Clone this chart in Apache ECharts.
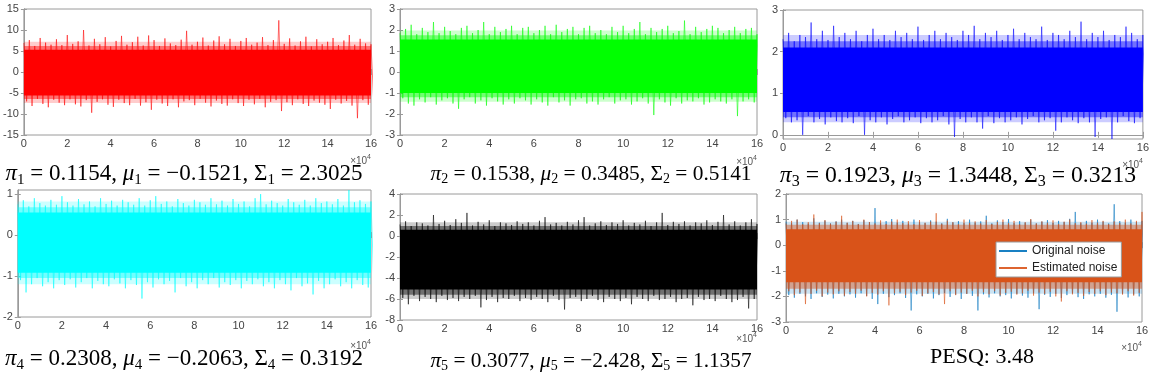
<!DOCTYPE html>
<html>
<head>
<meta charset="utf-8">
<script src="https://cdn.jsdelivr.net/npm/echarts@6/dist/echarts.min.js"></script>
<style>
  html, body { margin: 0; padding: 0; background: #fff; }
  #main { width: 1152px; height: 379px; }
</style>
</head>
<body>
<div id="main"></div>
<script>
const chart = echarts.init(document.getElementById('main'));

// samples are in units of 1e4, one peak/trough pair every 0.25
const STEP = 0.25;
const xTicks = [0, 2, 4, 6, 8, 10, 12, 14, 16];

// panel 1 (red)
const hi1 = [6.9,7.6,6.2,8.1,7.0,6.5,7.8,6.4,8.8,6.7, 7.3,10.0,6.3,7.9,6.6,8.3,6.1,7.4,8.6,6.5, 7.1,8.4,6.3,8.7,7.6,6.2,8.0,6.8,6.4,7.7,
  9.8,6.5,7.2,8.2,6.3,7.5,8.5,6.6,7.9,6.2, 7.4,8.1,6.5,7.0,8.3,6.4,7.6,12.3,6.7,8.0, 6.3,7.3,8.4,6.1,7.8,6.6,7.2,8.1,6.4,7.5, 8.8,6.5,7.9,6.8,6.6];
const lo1 = [-7.0,-8.1,-6.4,-7.6,-8.4,-6.6,-7.3,-7.9,-6.5,-7.7, -8.2,-6.7,-9.7,-7.1,-6.5,-7.8,-8.3,-6.6,-7.4,-7.9, -6.4,-8.0,-7.2,-9.0,-6.6,-7.5,-8.1,-6.5,-8.4,-7.0,
  -6.7,-7.9,-6.4,-7.3,-8.2,-6.8,-7.6,-8.0,-6.5,-7.4, -8.1,-6.6,-7.7,-6.4,-8.4,-7.1,-6.7,-9.3,-7.2,-7.9, -6.5,-7.6,-8.1,-6.8,-7.3,-7.8,-8.8,-6.6,-7.5,-6.9, -8.0,-11.0,-6.7,-7.8,-7.1];
// panel 2 (green)
const hi2 = [1.85,2.05,2.25,1.8,2.1,1.9,2.38,1.85,2.15,1.95, 1.8,2.1,2.2,1.85,2.0,2.38,1.8,2.15,1.9,2.05, 2.2,1.8,2.1,2.15,1.85,2.0,2.2,1.8,2.25,1.9,
  2.05,2.15,1.8,2.1,2.2,1.85,2.0,1.8,2.15,1.9, 2.2,1.85,2.05,2.38,1.8,2.1,1.9,2.05,2.2,1.85, 1.95,2.45,1.8,2.15,1.9,2.05,2.2,2.1,1.85,2.0, 2.15,1.85,2.05,2.1,1.8];
const lo2 = [-1.25,-1.5,-1.6,-1.3,-1.45,-1.2,-1.55,-1.35,-1.25,-1.5, -1.75,-1.3,-1.2,-1.5,-1.35,-1.6,-1.25,-1.4,-1.55,-1.3, -1.5,-1.25,-1.35,-1.55,-1.3,-1.45,-1.6,-1.2,-1.45,-1.35,
  -1.6,-1.3,-1.25,-1.5,-1.4,-1.55,-1.3,-1.2,-1.5,-1.35, -1.3,-1.55,-1.4,-1.25,-1.5,-2.05,-1.3,-1.45,-1.6,-1.25, -1.5,-1.35,-1.4,-1.25,-1.55,-1.45,-1.3,-1.4,-1.5,-1.3, -2.1,-1.4,-1.3,-1.45,-1.3];
// panel 3 (blue)
const hi3 = [2.3,2.45,2.25,2.4,2.35,2.7,2.3,2.5,2.28,2.62, 2.35,2.45,2.3,2.5,2.25,2.4,2.55,2.3,2.4,2.28, 2.5,2.35,2.45,2.3,2.6,2.28,2.4,2.5,2.3,2.45,
  2.35,2.28,2.5,2.4,2.62,2.3,2.45,2.35,2.5,2.28, 2.4,2.55,2.3,2.45,2.35,2.3,2.6,2.28,2.45,2.4, 2.3,2.5,2.35,2.72,2.3,2.45,2.35,2.5,2.28,2.4, 2.35,2.6,2.45,2.3,2.4];
const lo3 = [0.4,0.3,0.35,0.0,0.45,0.3,0.38,0.25,0.42,0.33, 0.3,0.4,0.28,0.45,0.0,0.35,0.3,0.42,0.25,0.38, 0.45,0.3,0.35,0.42,0.28,0.4,0.3,0.35,0.45,0.25,
  -0.05,0.38,0.3,0.42,0.3,0.15,0.45,0.28,0.4,0.3, 0.35,0.42,0.25,0.38,0.45,0.3,0.35,0.4,0.1,0.3, 0.42,0.35,0.28,0.4,0.3,-0.05,0.38,0.42,-0.1,0.3, 0.45,0.33,0.28,0.4,0.35];
// panel 4 (cyan)
const hi4 = [0.75,0.85,0.7,0.9,0.78,0.72,0.86,0.74,0.95,0.8, 0.72,0.88,0.75,0.82,0.7,0.9,0.76,0.84,0.72,0.86, 0.8,0.74,0.9,0.72,0.85,0.95,0.76,0.82,0.7,0.88,
  0.78,0.72,0.86,0.8,0.74,0.9,0.75,0.84,0.72,0.88, 0.76,0.82,0.7,0.9,1.0,0.75,0.84,0.78,0.72,0.88, 0.8,0.74,0.86,0.72,0.9,0.78,0.82,0.75,0.88,0.72, 1.1,0.8,0.85,0.76,0.82];
const lo4 = [-1.1,-1.4,-1.2,-1.05,-1.25,-1.15,-1.3,-1.1,-1.22,-1.08, -1.28,-1.15,-1.05,-1.3,-1.12,-1.2,-1.25,-1.08,-1.18,-1.3, -1.1,-1.22,-1.55,-1.15,-1.28,-1.08,-1.2,-1.12,-1.4,-1.05,
  -1.25,-1.15,-1.3,-1.1,-1.2,-1.05,-1.28,-1.15,-1.22,-1.1, -1.3,-1.12,-1.2,-1.08,-1.25,-1.15,-1.3,-1.1,-1.2,-1.35, -1.05,-1.25,-1.18,-1.45,-1.12,-1.3,-1.2,-1.08,-1.25,-1.15, -1.3,-1.1,-1.22,-1.28,-1.12];
// panel 5 (black)
const hi5 = [1.1,1.4,0.95,1.3,1.2,1.0,2.0,1.15,1.45,1.05, 1.6,1.25,2.2,1.0,1.35,1.1,1.5,0.95,1.3,1.2, 1.05,1.4,1.15,1.3,1.0,1.45,1.8,1.1,1.25,1.0,
  1.35,1.1,1.5,1.8,1.0,1.2,1.4,1.05,1.3,1.15, 1.5,1.0,1.25,1.1,1.45,0.95,1.3,2.2,1.05,1.35, 1.15,1.4,1.0,1.3,1.2,1.5,1.05,1.35,2.0,1.1, 1.4,1.0,1.3,1.6,1.15];
const lo5 = [-5.9,-6.5,-5.7,-6.2,-5.8,-6.0,-6.3,-5.7,-6.1,-5.9, -6.2,-5.8,-6.0,-5.7,-6.8,-6.1,-5.8,-6.3,-5.9,-6.0, -5.7,-6.2,-5.9,-6.1,-5.8,-6.0,-6.3,-5.7,-6.1,-7.0,
  -5.9,-5.8,-6.2,-6.0,-5.7,-6.1,-6.3,-5.8,-6.0,-6.2, -5.9,-6.5,-5.8,-6.0,-6.2,-5.7,-6.1,-6.0,-5.8,-6.3, -6.0,-5.9,-6.6,-5.8,-6.1,-6.0,-6.2,-5.7,-6.0,-6.3, -6.1,-5.8,-6.9,-6.0,-6.2];
// panel 6: original (blue) and estimated (orange) noise
const hiOrig = [0.92,0.86,1.0,0.9,0.84,1.05,0.88,0.96,0.85,0.93, 1.0,0.87,0.95,0.83,0.98,0.9,1.45,0.86,0.94,1.02, 0.88,0.95,0.84,1.0,0.9,0.86,0.97,0.92,0.85,1.03,
  0.89,0.94,0.86,1.0,0.88,0.93,1.15,0.85,0.97,0.9, 1.02,0.86,0.94,0.88,1.0,0.85,0.92,0.98,0.87,0.95, 0.9,1.03,1.3,0.86,0.95,0.88,1.0,0.92,0.85,1.6, 0.94,0.88,1.0,0.9,0.95];
const loOrig = [-1.95,-2.05,-1.9,-2.0,-2.1,-1.88,-2.02,-1.93,-2.08,-1.9, -2.0,-1.92,-2.05,-1.88,-1.98,-2.1,-2.3,-1.9,-2.03,-1.95, -1.88,-2.06,-2.55,-1.92,-2.0,-1.9,-2.08,-1.95,-1.87,-2.02,
  -1.93,-2.1,-1.9,-1.98,-2.55,-1.92,-2.04,-1.88,-2.0,-1.95, -2.08,-1.9,-1.97,-2.05,-1.88,-2.5,-1.94,-2.02,-1.9,-2.06, -1.95,-1.88,-2.03,-2.1,-1.92,-2.0,-1.9,-2.05,-1.94,-2.6, -1.9,-2.04,-1.93,-2.0,-1.88];
const hiEst = [0.85,0.95,1.0,0.82,0.9,1.2,0.86,0.98,0.84,0.92, 1.15,0.88,0.95,0.82,1.0,0.9,0.85,0.97,0.83,0.92, 1.0,0.86,0.94,0.82,0.98,0.88,0.92,1.25,0.84,0.96,
  0.9,0.82,1.0,0.87,0.93,0.85,0.98,0.83,0.91,1.0, 0.86,0.95,0.82,0.9,1.02,0.85,0.93,0.88,0.97,0.83, 0.92,1.0,0.86,0.9,0.84,0.98,0.88,0.95,0.82,0.93, 0.87,1.0,0.85,0.95,1.3];
const loEst = [-1.8,-1.95,-1.85,-2.3,-1.9,-1.78,-2.0,-1.85,-1.92,-1.8, -1.97,-1.83,-1.9,-1.78,-2.0,-1.86,-1.93,-1.8,-2.35,-1.88, -1.82,-1.95,-1.85,-1.78,-1.98,-1.88,-1.83,-1.92,-2.3,-1.8,
  -1.95,-1.85,-1.9,-1.78,-2.0,-1.84,-1.92,-1.8,-1.96,-1.86, -1.82,-1.93,-1.88,-1.78,-1.97,-1.85,-1.9,-1.82,-2.0,-2.2, -1.8,-1.92,-1.86,-1.98,-1.83,-1.9,-1.8,-1.95,-1.85,-1.88, -1.93,-1.8,-1.97,-1.86,-1.82];

// panel frames, axis ranges, solid core plus inner and outer fringe of each trace
const panels = [
  { left: 19,  top: 9,   width: 352, height: 126, min: -15, max: 15,  yTicks: [-15, -10, -5, 0, 5, 10, 15], core: [-5.6, 5.3],  fringe: [-6.4, 6.2],  outer: [-7.4, 7.2],  color: '#ff0000', hi: hi1, lo: lo1 },
  { left: 400, top: 9,   width: 357, height: 126, min: -3,  max: 3,   yTicks: [-3, -2, -1, 0, 1, 2, 3],      core: [-1.0, 1.55], fringe: [-1.2, 1.75], outer: [-1.42, 1.98], color: '#00ff00', hi: hi2, lo: lo2 },
  { left: 783, top: 10,  width: 360, height: 129, min: -0.1, max: 3,  yTicks: [0, 1, 2, 3],                  core: [0.55, 2.1],  fringe: [0.42, 2.25], outer: [0.3, 2.4],   color: '#0000ff', hi: hi3, lo: lo3 },
  { left: 14,  top: 190, width: 357, height: 127, min: -2,  max: 1.1, yTicks: [-2, -1, 0, 1],                core: [-0.92, 0.55], fringe: [-1.05, 0.68], outer: [-1.2, 0.82], color: '#00ffff', hi: hi4, lo: lo4 },
  { left: 400, top: 194, width: 357, height: 126, min: -8,  max: 4,   yTicks: [-8, -6, -4, -2, 0, 2, 4],     core: [-5.1, 0.6],  fringe: [-5.6, 0.95], outer: [-6.0, 1.3],  color: '#000000', hi: hi5, lo: lo5 },
  { left: 786, top: 194, width: 356, height: 128, min: -3,  max: 2,   yTicks: [-3, -2, -1, 0, 1, 2],         core: [-1.45, 0.62], fringe: [-1.7, 0.8], outer: [-1.9, 0.92], color: '#d95319', hi: hiEst, lo: loEst }
];

const axisColor = '#9a9a9a';
const labelStyle = { color: '#444', fontSize: 11, fontFamily: 'Liberation Sans, Arial' };

function zigzag(hi, lo) {
  const pts = [];
  for (let i = 0; i < hi.length; i++) {
    pts.push([i * STEP, hi[i]]);
    pts.push([i * STEP + STEP / 2, lo[i]]);
  }
  return pts;
}

const grid = [], xAxis = [], yAxis = [], series = [];
panels.forEach((p, k) => {
  grid.push({ left: p.left, top: p.top, width: p.width, height: p.height, show: true, borderColor: axisColor, borderWidth: 1, backgroundColor: '#fff' });
  const xBase = { type: 'value', gridIndex: k, min: 0, max: 16,
    axisLine: { show: true, lineStyle: { color: axisColor } },
    axisTick: { inside: true, length: 3, lineStyle: { color: axisColor }, customValues: xTicks },
    splitLine: { show: false } };
  xAxis.push(Object.assign({}, xBase, { position: 'bottom', axisLabel: Object.assign({ margin: 3, customValues: xTicks }, labelStyle) }));
  xAxis.push(Object.assign({}, xBase, { position: 'top', axisLabel: { show: false } }));
  const yBase = { type: 'value', gridIndex: k, min: p.min, max: p.max,
    axisLine: { show: true, lineStyle: { color: axisColor } },
    axisTick: { inside: true, length: 3, lineStyle: { color: axisColor }, customValues: p.yTicks },
    splitLine: { show: false } };
  yAxis.push(Object.assign({}, yBase, { position: 'left', axisLabel: Object.assign({ margin: 5, customValues: p.yTicks }, labelStyle) }));
  yAxis.push(Object.assign({}, yBase, { position: 'right', axisLabel: { show: false } }));
});

function noiseLine(k, name, color, hi, lo, z) {
  return {
    name: name, type: 'line', xAxisIndex: k * 2, yAxisIndex: k * 2,
    data: zigzag(hi, lo), symbol: 'none', silent: true, z: z,
    lineStyle: { color: color, width: 1, opacity: 0.55 }, itemStyle: { color: color }
  };
}

// solid band between two levels, drawn through the axis scales
function band(k, p, range, opacity, z) {
  return {
    type: 'custom', xAxisIndex: k * 2, yAxisIndex: k * 2, silent: true, z: z,
    data: [range],
    renderItem: function (params, api) {
      const a = api.coord([0, api.value(1)]);
      const b = api.coord([16, api.value(0)]);
      return { type: 'rect', shape: { x: a[0], y: a[1], width: b[0] - a[0], height: b[1] - a[1] }, style: { fill: p.color, opacity: opacity } };
    }
  };
}

panels.forEach((p, k) => {
  if (k === 5) {
    series.push(noiseLine(k, 'Original noise', '#0072bd', hiOrig, loOrig, 2));
    series.push(band(k, { color: '#0072bd' }, p.outer, 0.2, 3));
    series.push(noiseLine(k, 'Estimated noise', '#d95319', p.hi, p.lo, 3));
  } else {
    series.push(noiseLine(k, 'n' + (k + 1), p.color, p.hi, p.lo, 2));
    series.push(band(k, p, p.outer, 0.2, 3));
  }
  series.push(band(k, p, p.fringe, 0.45, 4));
  series.push(band(k, p, p.core, 1, 5));
});

// captions under each panel
const capFont = 'Liberation Serif, DejaVu Serif, serif';
function capRich(size) {
  return {
    n: { fontSize: size, fontFamily: capFont, color: '#000' },
    i: { fontSize: size, fontFamily: capFont, fontStyle: 'italic', color: '#000' },
    s: { fontSize: Math.round(size * 0.67), fontFamily: capFont, color: '#000', padding: [Math.round(size * 0.5), 0, 0, 0] },
    p: { fontSize: size, fontFamily: capFont, color: '#000' }
  };
}
function caption(k, pi, mu, sig) {
  return '{i|π}{s|' + k + '}{n| = ' + pi + ', }{i|μ}{s|' + k + '}{n| = ' + mu + ', Σ}{s|' + k + '}{n| = ' + sig + '}';
}
const captions = [
  { x: 184, y: 174, size: 23,   text: caption(1, '0.1154', '−0.1521', '2.3025') },
  { x: 591, y: 174, size: 21.4, text: caption(2, '0.1538', '0.3485', '0.5141') },
  { x: 958, y: 176, size: 23.7, text: caption(3, '0.1923', '1.3448', '0.3213') },
  { x: 184, y: 359, size: 23,   text: caption(4, '0.2308', '−0.2063', '0.3192') },
  { x: 591, y: 361, size: 21.3, text: caption(5, '0.3077', '−2.428', '1.1357') },
  { x: 982, y: 357, size: 22,   text: '{p|PESQ: 3.48}' }
];
// exponent marks at the right end of each x axis
const expMarks = [
  { x: 371, y: 161 }, { x: 757, y: 162 }, { x: 1143, y: 165 },
  { x: 371, y: 346 }, { x: 757, y: 339 }, { x: 1142, y: 348 }
];

const graphic = [];
captions.forEach(c => {
  graphic.push({ type: 'text', x: c.x, y: c.y, silent: true,
    style: { text: c.text, align: 'center', verticalAlign: 'middle', rich: capRich(c.size) } });
});
expMarks.forEach(m => {
  graphic.push({ type: 'text', x: m.x, y: m.y, silent: true,
    style: { text: '×10{e|4}', align: 'right', verticalAlign: 'middle', fill: '#555',
      font: '10px Liberation Sans, Arial',
      rich: { e: { fontSize: 7, fontFamily: 'Liberation Sans, Arial', color: '#555', padding: [0, 0, 7, 0] } } } });
});

const option = {
  animation: false,
  backgroundColor: '#fff',
  grid: grid,
  xAxis: xAxis,
  yAxis: yAxis,
  legend: {
    data: ['Original noise', 'Estimated noise'],
    orient: 'vertical', left: 996, top: 242,
    icon: 'rect', itemWidth: 28, itemHeight: 2, itemGap: 3,
    padding: [2, 4, 2, 3],
    itemStyle: { opacity: 0.9 },
    backgroundColor: '#fff', borderColor: '#9a9a9a', borderWidth: 1, borderRadius: 0,
    textStyle: { fontSize: 12, color: '#222', fontFamily: 'Liberation Sans, Arial', lineHeight: 14 },
    z: 10
  },
  series: series,
  graphic: graphic
};

chart.setOption(option);
</script>
</body>
</html>
